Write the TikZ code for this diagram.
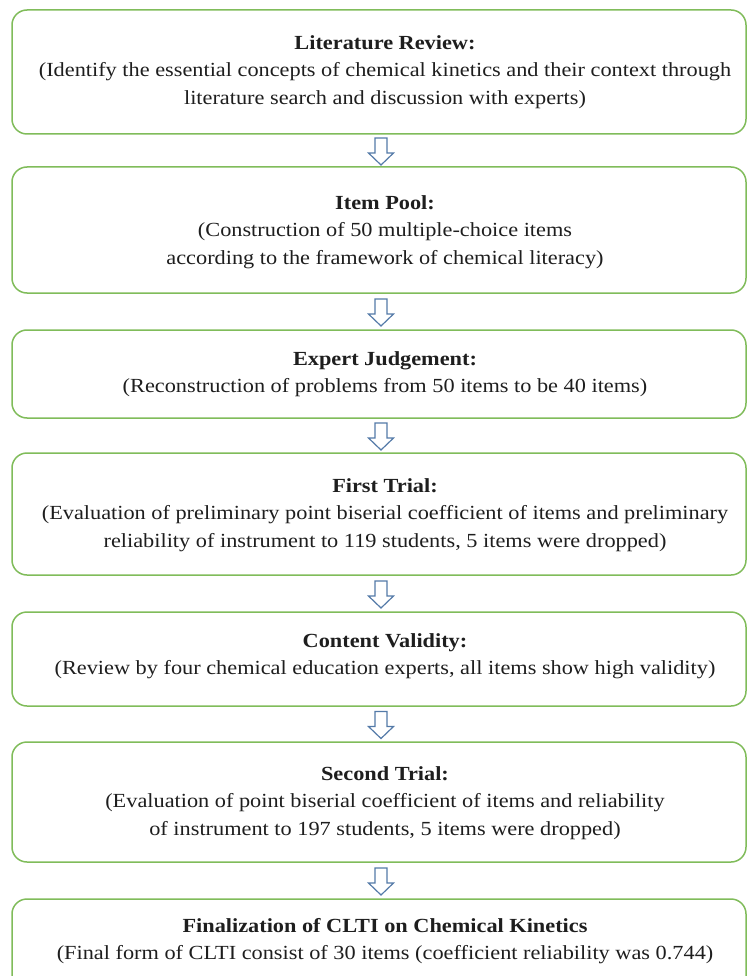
\documentclass[tikz,border=0pt]{standalone}
\usepackage{fontspec}
\setmainfont{Liberation Serif}[FakeStretch=1.115]
\usetikzlibrary{calc}
\definecolor{boxgreen}{RGB}{128,188,90}
\definecolor{arrowblue}{RGB}{84,122,168}
\definecolor{txt}{RGB}{30,30,30}
\tikzset{
  box/.style={draw=boxgreen, line width=1.5pt, rounded corners=15pt, minimum width=734pt, inner sep=0pt},
  lbl/.style={align=center, inner sep=0pt, text=txt, font=\fontsize{20}{27.5}\selectfont},
  blk/.pic={\draw[arrowblue, line width=1.2pt, line join=miter]
     (-6,-12.5) -- (6,-12.5) -- (6,2.5) -- (12.5,2.5) -- (0,14.5) -- (-12.5,2.5) -- (-6,2.5) -- cycle;}
}
\begin{document}
\begin{tikzpicture}[x=1pt,y=-1pt]
\useasboundingbox (0,0) rectangle (747,976);
\fill[white] (0,0) rectangle (747,976);
\node[box, minimum height=124pt] (b1) at (379,72) {};
\node[box, minimum height=126pt] (b2) at (379,230) {};
\node[box, minimum height=88pt] (b3) at (379,374) {};
\node[box, minimum height=122pt] (b4) at (379,514) {};
\node[box, minimum height=94pt] (b5) at (379,659) {};
\node[box, minimum height=120pt] (b6) at (379,802) {};
\node[box, minimum height=112pt] (b7) at (379,955) {};
\node[lbl] (t1) at (385,72) {\textbf{Literature Review:}\\(Identify the essential concepts of chemical kinetics and their context through\\literature search and discussion with experts)};
\node[lbl] (t2) at (385,232) {\textbf{Item Pool:}\\(Construction of 50 multiple-choice items\\according to the framework of chemical literacy)};
\node[lbl] (t3) at (385,374) {\textbf{Expert Judgement:}\\(Reconstruction of problems from 50 items to be 40 items)};
\node[lbl] (t4) at (385,515) {\textbf{First Trial:}\\(Evaluation of preliminary point biserial coefficient of items and preliminary\\reliability of instrument to 119 students, 5 items were dropped)};
\node[lbl] (t5) at (385,656) {\textbf{Content Validity:}\\(Review by four chemical education experts, all items show high validity)};
\node[lbl] (t6) at (385,803) {\textbf{Second Trial:}\\(Evaluation of point biserial coefficient of items and reliability\\of instrument to 197 students, 5 items were dropped)};
\node[lbl] (t7) at (385,941) {\textbf{Finalization of CLTI on Chemical Kinetics}\\(Final form of CLTI consist of 30 items (coefficient reliability was 0.744)};
\path ($(b1.south)!0.5!(b2.north)+(2,0)$) pic {blk};
\path ($(b2.south)!0.5!(b3.north)+(2,0)$) pic {blk};
\path ($(b3.south)!0.5!(b4.north)+(2,0)$) pic {blk};
\path ($(b4.south)!0.5!(b5.north)+(2,0)$) pic {blk};
\path ($(b5.south)!0.5!(b6.north)+(2,0)$) pic {blk};
\path ($(b6.south)!0.5!(b7.north)+(2,0)$) pic {blk};
\end{tikzpicture}
\end{document}
